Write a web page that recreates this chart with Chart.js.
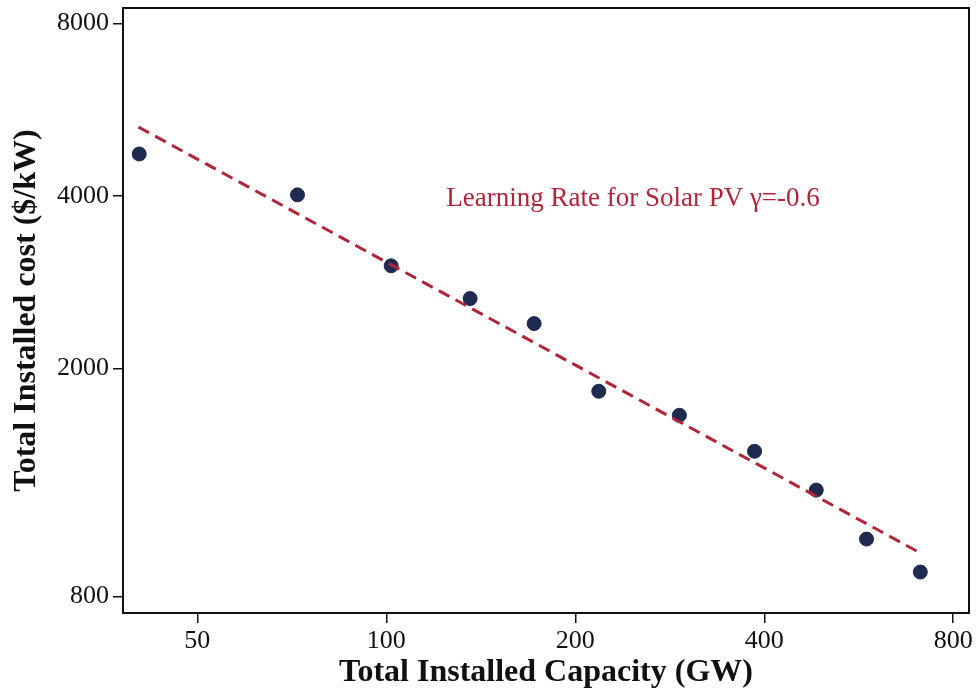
<!DOCTYPE html>
<html>
<head>
<meta charset="utf-8">
<script src="https://cdn.jsdelivr.net/npm/chart.js@4.4.1/dist/chart.umd.min.js"></script>
<style>
html,body{margin:0;padding:0;background:#fff;}
#wrap{width:977px;height:692px;position:relative;}
</style>
</head>
<body>
<div id="wrap"><canvas id="c"></canvas></div>
<script>
// Data
const capacityGW = [40.4, 72.2, 101.8, 136, 172, 218, 293, 386, 484, 582, 709];
const costPerKW  = [4733, 4016, 3020, 2648, 2395, 1825, 1657, 1434, 1227, 1008, 883];
const fitX = [40.3, 709];
const fitY = [5273, 953];
const xTicks = [50, 100, 200, 400, 800];
const yTicks = [800, 2000, 4000, 8000];
const annotationText = 'Learning Rate for Solar PV \u03B3=-0.6';
const annotationAt = [124.6, 3950];

const FONT = "'Liberation Serif', 'DejaVu Serif', serif";
const RED = '#b02537';
const NAVY = '#1e2a4f';

const framePlugin = {
  id: 'frame',
  afterDatasetsDraw(chart) {
    const {ctx, chartArea: a, scales} = chart;
    ctx.save();
    ctx.strokeStyle = '#111';
    ctx.lineWidth = 2;
    ctx.strokeRect(a.left, a.top, a.right - a.left, a.bottom - a.top);
    ctx.fillStyle = RED;
    ctx.font = "27px " + FONT;
    ctx.textBaseline = 'middle';
    ctx.textAlign = 'left';
    ctx.fillText(annotationText, scales.x.getPixelForValue(annotationAt[0]), scales.y.getPixelForValue(annotationAt[1]));
    ctx.restore();
  }
};

new Chart(document.getElementById('c'), {
  type: 'scatter',
  data: {
    datasets: [
      {
        type: 'line',
        data: fitX.map((x, i) => ({x, y: fitY[i]})),
        borderColor: RED,
        borderWidth: 3,
        borderDash: [12, 7],
        pointRadius: 0,
        fill: false
      },
      {
        data: capacityGW.map((x, i) => ({x, y: costPerKW[i]})),
        backgroundColor: NAVY,
        borderColor: NAVY,
        pointRadius: 7,
        pointHoverRadius: 7
      }
    ]
  },
  options: {
    responsive: true,
    maintainAspectRatio: false,
    animation: false,
    devicePixelRatio: 1,
    layout: {padding: {top: 7, right: 8, left: 0, bottom: 0}},
    plugins: {legend: {display: false}, tooltip: {enabled: false}},
    scales: {
      x: {
        type: 'logarithmic',
        min: 38.07, max: 847.6,
        afterBuildTicks: s => { s.ticks = xTicks.map(v => ({value: v})); },
        afterFit: s => { s.height = 79; s.paddingLeft = 0; s.paddingRight = 0; },
        grid: {display: true, drawOnChartArea: false, drawTicks: true, tickLength: 10, color: '#111', lineWidth: 1.5},
        border: {display: true, color: '#111', width: 2},
        ticks: {color: '#111', font: {family: FONT, size: 26}, padding: 3, maxRotation: 0, autoSkip: false,
                callback: v => String(v)},
        title: {display: true, text: 'Total Installed Capacity (GW)', color: '#111',
                font: {family: FONT, size: 32, weight: 'bold'}, padding: {top: -4, bottom: 0}}
      },
      y: {
        type: 'logarithmic',
        min: 749, max: 8506,
        afterBuildTicks: s => { s.ticks = yTicks.map(v => ({value: v})); },
        afterFit: s => { s.width = 123; s.paddingTop = 0; s.paddingBottom = 0; },
        grid: {display: true, drawOnChartArea: false, drawTicks: true, tickLength: 10, color: '#111', lineWidth: 1.5},
        border: {display: true, color: '#111', width: 2},
        ticks: {color: '#111', font: {family: FONT, size: 26}, padding: 4, autoSkip: false,
                callback: v => String(v)},
        title: {display: true, text: 'Total Installed cost ($/kW)', color: '#111',
                font: {family: FONT, size: 32, weight: 'bold'}, padding: {top: 8, bottom: 0}}
      }
    }
  },
  plugins: [framePlugin]
});
</script>
</body>
</html>
